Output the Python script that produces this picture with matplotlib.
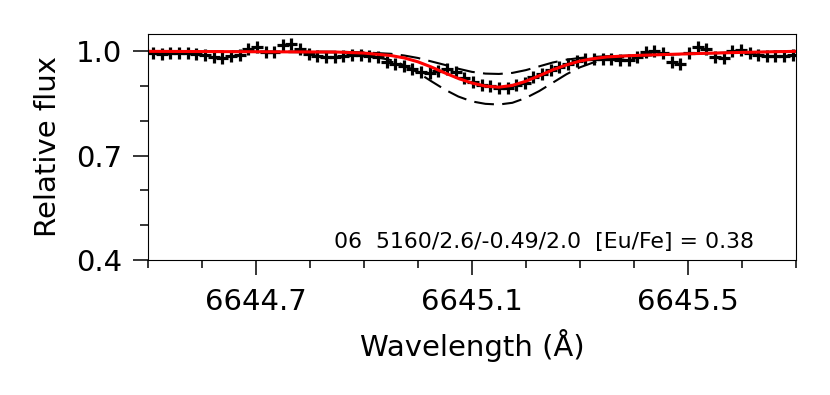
import matplotlib
matplotlib.use("Agg")
import matplotlib.pyplot as plt
from matplotlib.ticker import MultipleLocator

# observed spectrum (wavelength in A, normalised flux)
obs_wave = [6644.510, 6644.526, 6644.542, 6644.558, 6644.574, 6644.590, 6644.606, 6644.622,
            6644.638, 6644.654, 6644.670, 6644.686, 6644.702, 6644.718, 6644.734, 6644.750,
            6644.766, 6644.782, 6644.798, 6644.814, 6644.830, 6644.846, 6644.862, 6644.878,
            6644.894, 6644.910, 6644.926, 6644.942, 6644.958, 6644.974, 6644.990, 6645.006,
            6645.022, 6645.038, 6645.054, 6645.070, 6645.086, 6645.102, 6645.118, 6645.134,
            6645.150, 6645.166, 6645.182, 6645.198, 6645.214, 6645.230, 6645.246, 6645.262,
            6645.278, 6645.294, 6645.310, 6645.326, 6645.342, 6645.358, 6645.374, 6645.390,
            6645.406, 6645.422, 6645.438, 6645.454, 6645.470, 6645.486, 6645.502, 6645.518,
            6645.534, 6645.550, 6645.566, 6645.582, 6645.598, 6645.614, 6645.630, 6645.646,
            6645.662, 6645.678, 6645.694]
obs_flux = [0.996, 0.993, 0.996, 0.996, 0.996, 0.993, 0.990, 0.985,
            0.981, 0.987, 0.990, 1.006, 1.013, 0.997, 0.997, 1.017,
            1.022, 1.006, 0.992, 0.986, 0.983, 0.983, 0.988, 0.990,
            0.990, 0.987, 0.983, 0.970, 0.963, 0.957, 0.950, 0.942,
            0.938, 0.944, 0.948, 0.942, 0.922, 0.912, 0.902, 0.899,
            0.896, 0.896, 0.903, 0.908, 0.925, 0.935, 0.945, 0.955,
            0.963, 0.972, 0.979, 0.978, 0.978, 0.977, 0.976, 0.976,
            0.985, 0.998, 1.000, 0.995, 0.970, 0.963, 0.995, 1.012,
            1.006, 0.985, 0.982, 1.000, 1.004, 0.995, 0.990, 0.988,
            0.987, 0.988, 0.990]

# synthetic spectra
syn_wave = [6644.50, 6644.85, 6644.90, 6644.95, 6644.975, 6645.00, 6645.025, 6645.05,
            6645.075, 6645.10, 6645.125, 6645.15, 6645.175, 6645.20, 6645.225, 6645.25,
            6645.275, 6645.30, 6645.325, 6645.35, 6645.40, 6645.50, 6645.60, 6645.70]
syn_best = [1.000, 0.998, 0.995, 0.988, 0.981, 0.970, 0.955, 0.938,
            0.922, 0.909, 0.900, 0.897, 0.902, 0.914, 0.930, 0.947,
            0.961, 0.972, 0.979, 0.984, 0.988, 0.993, 0.997, 1.000]
syn_upper = [1.000, 0.999, 0.997, 0.993, 0.988, 0.981, 0.971, 0.961,
             0.950, 0.941, 0.936, 0.935, 0.938, 0.946, 0.957, 0.968,
             0.976, 0.981, 0.984, 0.986, 0.988, 0.993, 0.997, 1.000]
syn_lower = [1.000, 0.997, 0.990, 0.975, 0.960, 0.939, 0.914, 0.890,
             0.870, 0.856, 0.849, 0.847, 0.852, 0.866, 0.886, 0.910,
             0.934, 0.954, 0.968, 0.977, 0.986, 0.993, 0.997, 1.000]

label = '06  5160/2.6/-0.49/2.0  [Eu/Fe] = 0.38'

fig = plt.figure(figsize=(8.3, 3.95), dpi=100)
ax = fig.add_axes([0.178, 0.342, 0.781, 0.572])

ax.plot(syn_wave, syn_upper, color='black', lw=1.5, dashes=(9.5, 4))
ax.plot(syn_wave, syn_lower, color='black', lw=1.5, dashes=(9.5, 4))
ax.plot(obs_wave, obs_flux, '+', color='black', ms=8.5, mew=2.3)
ax.plot(syn_wave, syn_best, color='red', lw=2.2)

ax.set_xlim(6644.5, 6645.7)
ax.set_ylim(0.4, 1.05)
ax.xaxis.set_minor_locator(MultipleLocator(0.1))
ax.yaxis.set_minor_locator(MultipleLocator(0.1))
ax.set_xticks([6644.7, 6645.1, 6645.5])
ax.set_xticklabels(['6644.7', '6645.1', '6645.5'])
ax.set_yticks([0.4, 0.7, 1.0])
ax.set_yticklabels(['0.4', '0.7', '1.0'])

ax.tick_params(which='major', length=10.5, width=1.1, labelsize=21)
ax.tick_params(axis='x', which='major', pad=10)
ax.tick_params(axis='y', which='major', pad=8)
ax.tick_params(which='minor', length=5.5, width=1.1)
ax.set_xlabel('Wavelength (Å)', fontsize=21, labelpad=9)
ax.set_ylabel('Relative flux', fontsize=21, labelpad=10)

ax.text(0.935, 0.035, label, transform=ax.transAxes, ha='right', va='bottom', fontsize=15.8)

fig.savefig('out.png', dpi=100)
